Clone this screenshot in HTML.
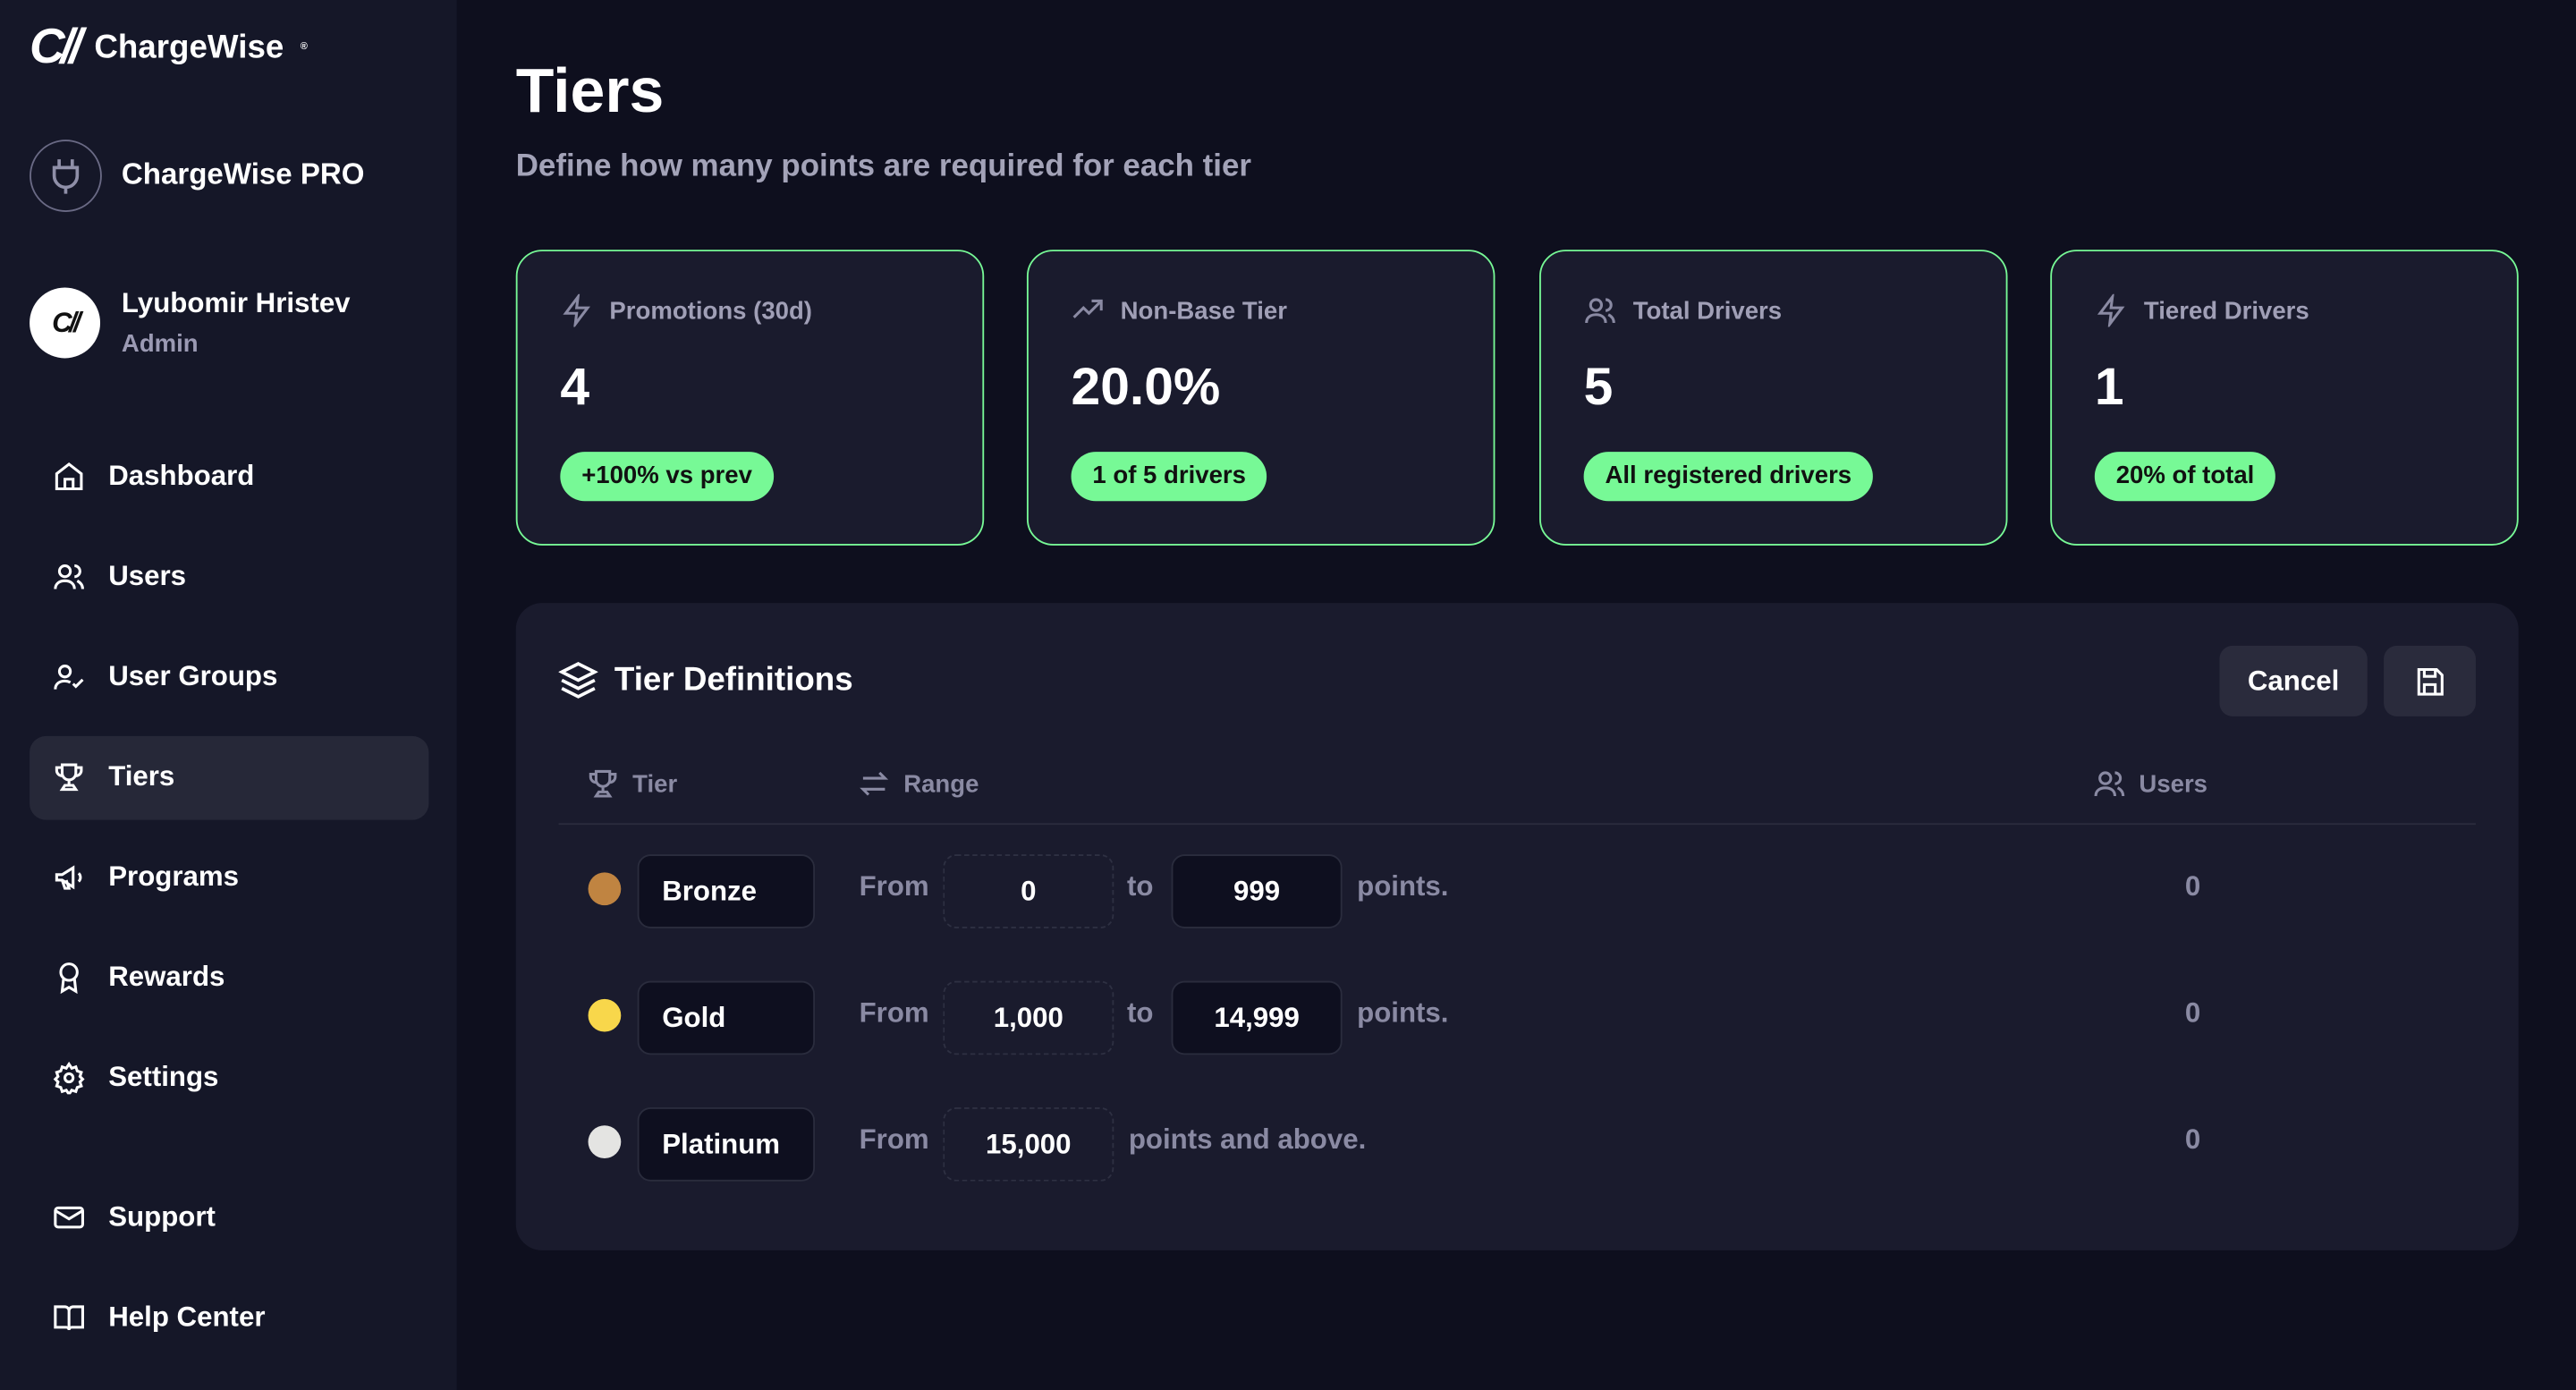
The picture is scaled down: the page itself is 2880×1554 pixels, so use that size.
<!DOCTYPE html>
<html><head><meta charset="utf-8"><style>
*{margin:0;padding:0;box-sizing:border-box}
html,body{width:2880px;height:1554px;overflow:hidden;background:#0e0f1e}
#w{position:absolute;left:0;top:0;width:1568px;height:846px;transform:scale(1.83673,1.83688);transform-origin:0 0;font-family:"Liberation Sans",sans-serif;font-weight:bold;color:#fff}
.a{position:absolute}
.sb{left:0;top:0;width:278px;height:846px;background:#151728}
.nav{left:32px;font-size:17px;display:flex;align-items:center;gap:14px;height:24px}
.nav svg{width:20px;height:20px}
.card{width:285px;height:180px;top:152px;border:1.5px solid #77f996;border-radius:16px;background:#1a1b2d}
.lbl{left:26px;top:26px;font-size:15px;color:#a09fb6;display:flex;gap:10px;align-items:center}
.lbl svg,.th svg{width:20px;height:20px}
.num{left:26px;top:64px;font-size:32px}
.pill{left:26px;top:122px;height:30px;border-radius:15px;background:#77f996;color:#111;font-size:15px;padding:0 13px;line-height:30px}
.panel{left:314px;top:367px;width:1219px;height:394px;background:#1a1b2d;border-radius:16px}
.nm{left:74px;width:108px;height:45px;border:1px solid #2a2c3d;background:#0e0f1f;border-radius:8px;font-size:17px;padding-left:14px;line-height:43px}
.dot{left:44px;width:20px;height:20px;border-radius:50%}
.g{color:#8a8aa3;font-size:17px}
.th{display:flex;align-items:center;gap:8px;font-size:15px;color:#8a8aa3}
.fb{width:104px;height:45px;border:1px dashed #2e3042;border-radius:8px;text-align:center;line-height:43px;font-size:17px}
.tb{width:104px;height:45px;border:1px solid #2a2c3d;background:#0e0f1f;border-radius:8px;text-align:center;line-height:43px;font-size:17px}
</style></head><body><div id="w">
<div class="a sb"></div>
<div class="a" style="left:18px;top:12px;font-size:20px;display:flex;align-items:center;gap:10px"><span style="font-style:italic;font-size:30px;letter-spacing:-3px">C//</span>ChargeWise<sup style="font-size:6px">®</sup></div>
<div class="a" style="left:18px;top:85px;width:44px;height:44px;border:1.5px solid #6a6a85;border-radius:50%;display:flex;align-items:center;justify-content:center"><svg width="20" height="22" viewBox="0 0 20 22" fill="none" stroke="#8f8fa8" stroke-width="2"><path d="M6 1v5M14 1v5M3 6h14v5a7 7 0 0 1-14 0z M10 17v5"/></svg></div>
<div class="a" style="left:74px;top:96px;font-size:18px">ChargeWise PRO</div>
<div class="a" style="left:18px;top:175px;width:43px;height:43px;background:#fff;border-radius:50%;color:#111;font-style:italic;font-size:17px;text-align:center;line-height:43px;letter-spacing:-2px">C//</div>
<div class="a" style="left:74px;top:175px;font-size:17px">Lyubomir Hristev</div>
<div class="a" style="left:74px;top:201px;font-size:15px;color:#9b9ab3">Admin</div>
<div class="a" style="left:18px;top:448px;width:243px;height:51px;background:#262838;border-radius:10px"></div>
<div class="a nav" style="top:278px"><svg viewBox="0 0 24 24" fill="none" stroke="#fff" stroke-width="2"><path d="M3 10l9-7 9 7v11H3z M9 21v-7h6v7"/></svg>Dashboard</div>
<div class="a nav" style="top:339px"><svg viewBox="0 0 24 24" fill="none" stroke="#fff" stroke-width="2"><circle cx="9" cy="8" r="4"/><path d="M2 21c0-4 3-6 7-6s7 2 7 6M16 4a4 4 0 0 1 0 8M22 21c0-3-2-5-4-6"/></svg>Users</div>
<div class="a nav" style="top:400px"><svg viewBox="0 0 24 24" fill="none" stroke="#fff" stroke-width="2"><circle cx="9" cy="8" r="4"/><path d="M2 21c0-4 3-6 7-6 2 0 3 .5 4 1M15 17l2 2 5-5"/></svg>User Groups</div>
<div class="a nav" style="top:461px"><svg viewBox="0 0 24 24" fill="none" stroke="#fff" stroke-width="2"><path d="M7 3h10v6a5 5 0 0 1-10 0zM7 5H3v2a4 4 0 0 0 4 4M17 5h4v2a4 4 0 0 1-4 4M12 14v4M7 21h10l-2-3H9z"/></svg>Tiers</div>
<div class="a nav" style="top:522px"><svg viewBox="0 0 24 24" fill="none" stroke="#fff" stroke-width="2"><path d="M3 10v4h4l8 5V5L7 10zM7 14l2 6h3l-2-6M19 9a4 4 0 0 1 0 6"/></svg>Programs</div>
<div class="a nav" style="top:583px"><svg viewBox="0 0 24 24" fill="none" stroke="#fff" stroke-width="2"><circle cx="12" cy="8" r="6"/><path d="M8 13l-1 9 5-3 5 3-1-9"/></svg>Rewards</div>
<div class="a nav" style="top:644px"><svg viewBox="0 0 24 24" fill="none" stroke="#fff" stroke-width="2"><circle cx="12" cy="12" r="3"/><path d="M12 2l2 3 3-1 1 3 3 1-1 3 2 2-2 2 1 3-3 1-1 3-3-1-2 3-2-3-3 1-1-3-3-1 1-3-2-2 2-2-1-3 3-1 1-3 3 1z"/></svg>Settings</div>
<div class="a nav" style="top:729px"><svg viewBox="0 0 24 24" fill="none" stroke="#fff" stroke-width="2"><rect x="2" y="5" width="20" height="14" rx="2"/><path d="M2 7l10 6 10-6"/></svg>Support</div>
<div class="a nav" style="top:790px"><svg viewBox="0 0 24 24" fill="none" stroke="#fff" stroke-width="2"><path d="M2 4h7a3 3 0 0 1 3 3v14a2 2 0 0 0-2-2H2zM22 4h-7a3 3 0 0 0-3 3v14a2 2 0 0 1 2-2h8z"/></svg>Help Center</div>

<div class="a" style="left:314px;top:35px;font-size:38px">Tiers</div>
<div class="a" style="left:314px;top:91px;font-size:19px;color:#a3a3b8">Define how many points are required for each tier</div>

<div class="a card" style="left:314px"><div class="a lbl"><svg viewBox="0 0 24 24" fill="none" stroke="#8a8aa3" stroke-width="2"><path d="M13 2L4 14h8l-1 8 9-12h-8z"/></svg><span>Promotions (30d)</span></div><div class="a num">4</div><div class="a pill">+100% vs prev</div></div>
<div class="a card" style="left:625px"><div class="a lbl"><svg viewBox="0 0 24 24" fill="none" stroke="#8a8aa3" stroke-width="2"><path d="M2 17l7-7 4 4 9-9M15 5h7v7"/></svg><span>Non-Base Tier</span></div><div class="a num">20.0%</div><div class="a pill">1 of 5 drivers</div></div>
<div class="a card" style="left:937px"><div class="a lbl"><svg viewBox="0 0 24 24" fill="none" stroke="#8a8aa3" stroke-width="2"><circle cx="9" cy="8" r="4"/><path d="M2 21c0-4 3-6 7-6s7 2 7 6M16 4a4 4 0 0 1 0 8M22 21c0-3-2-5-4-6"/></svg><span>Total Drivers</span></div><div class="a num">5</div><div class="a pill">All registered drivers</div></div>
<div class="a card" style="left:1248px"><div class="a lbl"><svg viewBox="0 0 24 24" fill="none" stroke="#8a8aa3" stroke-width="2"><path d="M13 2L4 14h8l-1 8 9-12h-8z"/></svg><span>Tiered Drivers</span></div><div class="a num">1</div><div class="a pill">20% of total</div></div>

<div class="a panel">
<div class="a" style="left:26px;top:35px;display:flex;gap:10px;align-items:center;font-size:20px"><svg width="24" height="24" viewBox="0 0 24 24" fill="none" stroke="#fff" stroke-width="2"><path d="M12 2l10 5-10 5-10-5zM2 12l10 5 10-5M2 17l10 5 10-5"/></svg>Tier Definitions</div>
<div class="a" style="left:1037px;top:26px;width:90px;height:43px;background:#2a2b3c;border-radius:8px;text-align:center;line-height:43px;font-size:17px">Cancel</div>
<div class="a" style="left:1137px;top:26px;width:56px;height:43px;background:#2a2b3c;border-radius:8px;display:flex;align-items:center;justify-content:center"><svg width="20" height="20" viewBox="0 0 24 24" fill="none" stroke="#fff" stroke-width="2"><path d="M4 3h13l4 4v14H4zM8 3v5h8V3M8 21v-7h8v7"/></svg></div>
<div class="a th" style="left:43px;top:100px"><svg viewBox="0 0 24 24" fill="none" stroke="#8a8aa3" stroke-width="2"><path d="M7 3h10v6a5 5 0 0 1-10 0zM7 5H3v2a4 4 0 0 0 4 4M17 5h4v2a4 4 0 0 1-4 4M12 14v4M7 21h10l-2-3H9z"/></svg>Tier</div>
<div class="a th" style="left:208px;top:100px"><svg viewBox="0 0 24 24" fill="none" stroke="#8a8aa3" stroke-width="2"><path d="M4 8h16l-4-4M20 16H4l4 4"/></svg>Range</div>
<div class="a th" style="left:960px;top:100px"><svg viewBox="0 0 24 24" fill="none" stroke="#8a8aa3" stroke-width="2"><circle cx="9" cy="8" r="4"/><path d="M2 21c0-4 3-6 7-6s7 2 7 6M16 4a4 4 0 0 1 0 8M22 21c0-3-2-5-4-6"/></svg>Users</div>
<div class="a" style="left:26px;top:134px;width:1167px;height:1px;background:#2a2c3d"></div>

<div class="a dot" style="top:164px;background:#c08441"></div><div class="a nm" style="top:153px">Bronze</div>
<div class="a g" style="left:209px;top:163px">From</div><div class="a fb" style="left:260px;top:153px">0</div>
<div class="a g" style="left:372px;top:163px">to</div><div class="a tb" style="left:399px;top:153px">999</div>
<div class="a g" style="left:512px;top:163px">points.</div><div class="a g" style="left:1016px;top:163px">0</div>

<div class="a dot" style="top:241px;background:#f8d74b"></div><div class="a nm" style="top:230px">Gold</div>
<div class="a g" style="left:209px;top:240px">From</div><div class="a fb" style="left:260px;top:230px">1,000</div>
<div class="a g" style="left:372px;top:240px">to</div><div class="a tb" style="left:399px;top:230px">14,999</div>
<div class="a g" style="left:512px;top:240px">points.</div><div class="a g" style="left:1016px;top:240px">0</div>

<div class="a dot" style="top:318px;background:#e4e4e2"></div><div class="a nm" style="top:307px">Platinum</div>
<div class="a g" style="left:209px;top:317px">From</div><div class="a fb" style="left:260px;top:307px">15,000</div>
<div class="a g" style="left:373px;top:317px">points and above.</div><div class="a g" style="left:1016px;top:317px">0</div>
</div>
</div></body></html>
